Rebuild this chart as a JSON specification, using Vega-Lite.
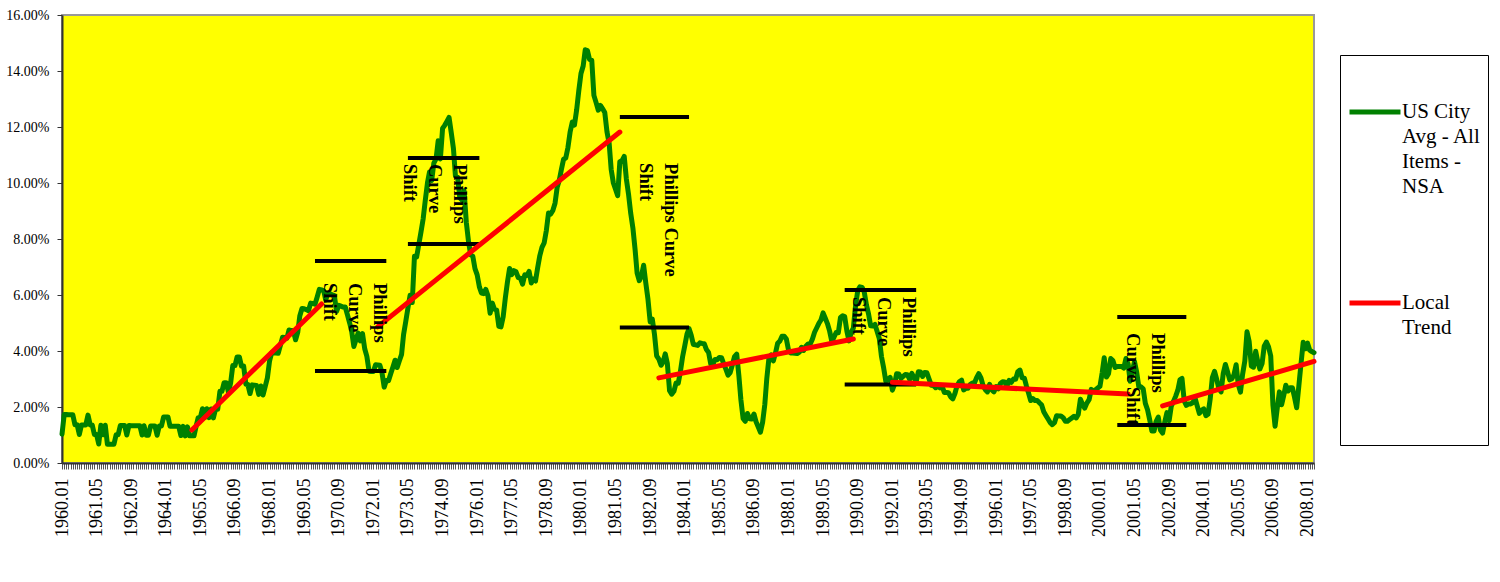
{
  "$schema": "https://vega.github.io/schema/vega-lite/v6.json",
  "width": 1252,
  "height": 448,
  "autosize": {"type": "none"},
  "padding": {"left": 62, "top": 15, "right": 186, "bottom": 119},
  "background": "#ffffff",
  "config": {
    "view": {"fill": "#FFFF00", "stroke": "#999999", "strokeWidth": 2},
    "font": "Liberation Serif",
    "style": {"guide-label": {"lineHeight": 25}}
  },
  "datasets": {
    "cpi": [
{"d":"1960-01","v":1.03},{"d":"1960-02","v":1.73},{"d":"1960-03","v":1.73},{"d":"1960-04","v":1.72},{"d":"1960-05","v":1.72},{"d":"1960-06","v":1.72},{"d":"1960-07","v":1.37},{"d":"1960-08","v":1.37},{"d":"1960-09","v":1.02},{"d":"1960-10","v":1.36},{"d":"1960-11","v":1.36},{"d":"1960-12","v":1.36},
{"d":"1961-01","v":1.71},{"d":"1961-02","v":1.36},{"d":"1961-03","v":1.36},{"d":"1961-04","v":1.02},{"d":"1961-05","v":1.02},{"d":"1961-06","v":0.68},{"d":"1961-07","v":1.35},{"d":"1961-08","v":1.01},{"d":"1961-09","v":1.35},{"d":"1961-10","v":0.67},{"d":"1961-11","v":0.67},{"d":"1961-12","v":0.67},
{"d":"1962-01","v":0.67},{"d":"1962-02","v":1.01},{"d":"1962-03","v":1.01},{"d":"1962-04","v":1.34},{"d":"1962-05","v":1.34},{"d":"1962-06","v":1.34},{"d":"1962-07","v":1.00},{"d":"1962-08","v":1.34},{"d":"1962-09","v":1.33},{"d":"1962-10","v":1.33},{"d":"1962-11","v":1.33},{"d":"1962-12","v":1.33},
{"d":"1963-01","v":1.33},{"d":"1963-02","v":1.00},{"d":"1963-03","v":1.33},{"d":"1963-04","v":0.99},{"d":"1963-05","v":0.99},{"d":"1963-06","v":1.32},{"d":"1963-07","v":1.32},{"d":"1963-08","v":1.32},{"d":"1963-09","v":0.99},{"d":"1963-10","v":1.32},{"d":"1963-11","v":1.32},{"d":"1963-12","v":1.64},
{"d":"1964-01","v":1.64},{"d":"1964-02","v":1.64},{"d":"1964-03","v":1.31},{"d":"1964-04","v":1.31},{"d":"1964-05","v":1.31},{"d":"1964-06","v":1.31},{"d":"1964-07","v":1.31},{"d":"1964-08","v":0.98},{"d":"1964-09","v":1.31},{"d":"1964-10","v":0.97},{"d":"1964-11","v":1.29},{"d":"1964-12","v":0.97},
{"d":"1965-01","v":0.97},{"d":"1965-02","v":0.97},{"d":"1965-03","v":1.29},{"d":"1965-04","v":1.62},{"d":"1965-05","v":1.62},{"d":"1965-06","v":1.94},{"d":"1965-07","v":1.62},{"d":"1965-08","v":1.94},{"d":"1965-09","v":1.62},{"d":"1965-10","v":1.93},{"d":"1965-11","v":1.61},{"d":"1965-12","v":1.92},
{"d":"1966-01","v":1.92},{"d":"1966-02","v":2.56},{"d":"1966-03","v":2.56},{"d":"1966-04","v":2.87},{"d":"1966-05","v":2.87},{"d":"1966-06","v":2.53},{"d":"1966-07","v":2.85},{"d":"1966-08","v":3.48},{"d":"1966-09","v":3.48},{"d":"1966-10","v":3.79},{"d":"1966-11","v":3.79},{"d":"1966-12","v":3.46},
{"d":"1967-01","v":3.46},{"d":"1967-02","v":2.81},{"d":"1967-03","v":2.80},{"d":"1967-04","v":2.48},{"d":"1967-05","v":2.79},{"d":"1967-06","v":2.78},{"d":"1967-07","v":2.77},{"d":"1967-08","v":2.45},{"d":"1967-09","v":2.75},{"d":"1967-10","v":2.43},{"d":"1967-11","v":2.74},{"d":"1967-12","v":3.04},
{"d":"1968-01","v":3.65},{"d":"1968-02","v":3.95},{"d":"1968-03","v":3.94},{"d":"1968-04","v":3.93},{"d":"1968-05","v":3.92},{"d":"1968-06","v":4.20},{"d":"1968-07","v":4.49},{"d":"1968-08","v":4.48},{"d":"1968-09","v":4.46},{"d":"1968-10","v":4.75},{"d":"1968-11","v":4.73},{"d":"1968-12","v":4.72},
{"d":"1969-01","v":4.40},{"d":"1969-02","v":4.68},{"d":"1969-03","v":5.25},{"d":"1969-04","v":5.52},{"d":"1969-05","v":5.51},{"d":"1969-06","v":5.48},{"d":"1969-07","v":5.44},{"d":"1969-08","v":5.71},{"d":"1969-09","v":5.70},{"d":"1969-10","v":5.67},{"d":"1969-11","v":5.93},{"d":"1969-12","v":6.20},
{"d":"1970-01","v":6.18},{"d":"1970-02","v":6.15},{"d":"1970-03","v":5.82},{"d":"1970-04","v":6.06},{"d":"1970-05","v":6.04},{"d":"1970-06","v":6.01},{"d":"1970-07","v":5.98},{"d":"1970-08","v":5.41},{"d":"1970-09","v":5.63},{"d":"1970-10","v":5.60},{"d":"1970-11","v":5.57},{"d":"1970-12","v":5.57},
{"d":"1971-01","v":5.29},{"d":"1971-02","v":5.00},{"d":"1971-03","v":4.71},{"d":"1971-04","v":4.16},{"d":"1971-05","v":4.40},{"d":"1971-06","v":4.64},{"d":"1971-07","v":4.36},{"d":"1971-08","v":4.62},{"d":"1971-09","v":4.08},{"d":"1971-10","v":3.81},{"d":"1971-11","v":3.28},{"d":"1971-12","v":3.27},
{"d":"1972-01","v":3.27},{"d":"1972-02","v":3.51},{"d":"1972-03","v":3.50},{"d":"1972-04","v":3.49},{"d":"1972-05","v":3.23},{"d":"1972-06","v":2.71},{"d":"1972-07","v":2.95},{"d":"1972-08","v":2.94},{"d":"1972-09","v":3.19},{"d":"1972-10","v":3.42},{"d":"1972-11","v":3.67},{"d":"1972-12","v":3.41},
{"d":"1973-01","v":3.65},{"d":"1973-02","v":3.88},{"d":"1973-03","v":4.59},{"d":"1973-04","v":5.06},{"d":"1973-05","v":5.53},{"d":"1973-06","v":5.99},{"d":"1973-07","v":5.73},{"d":"1973-08","v":7.38},{"d":"1973-09","v":7.36},{"d":"1973-10","v":7.80},{"d":"1973-11","v":8.25},{"d":"1973-12","v":8.71},
{"d":"1974-01","v":9.39},{"d":"1974-02","v":10.02},{"d":"1974-03","v":10.39},{"d":"1974-04","v":10.09},{"d":"1974-05","v":10.71},{"d":"1974-06","v":10.86},{"d":"1974-07","v":11.51},{"d":"1974-08","v":10.86},{"d":"1974-09","v":11.95},{"d":"1974-10","v":12.06},{"d":"1974-11","v":12.20},{"d":"1974-12","v":12.34},
{"d":"1975-01","v":11.80},{"d":"1975-02","v":11.23},{"d":"1975-03","v":10.25},{"d":"1975-04","v":10.21},{"d":"1975-05","v":9.47},{"d":"1975-06","v":9.39},{"d":"1975-07","v":9.72},{"d":"1975-08","v":8.60},{"d":"1975-09","v":7.91},{"d":"1975-10","v":7.44},{"d":"1975-11","v":7.38},{"d":"1975-12","v":6.94},
{"d":"1976-01","v":6.72},{"d":"1976-02","v":6.29},{"d":"1976-03","v":6.07},{"d":"1976-04","v":6.05},{"d":"1976-05","v":6.20},{"d":"1976-06","v":5.97},{"d":"1976-07","v":5.35},{"d":"1976-08","v":5.71},{"d":"1976-09","v":5.49},{"d":"1976-10","v":5.46},{"d":"1976-11","v":4.88},{"d":"1976-12","v":4.86},
{"d":"1977-01","v":5.22},{"d":"1977-02","v":5.91},{"d":"1977-03","v":6.44},{"d":"1977-04","v":6.95},{"d":"1977-05","v":6.73},{"d":"1977-06","v":6.87},{"d":"1977-07","v":6.83},{"d":"1977-08","v":6.62},{"d":"1977-09","v":6.60},{"d":"1977-10","v":6.39},{"d":"1977-11","v":6.72},{"d":"1977-12","v":6.70},
{"d":"1978-01","v":6.84},{"d":"1978-02","v":6.43},{"d":"1978-03","v":6.57},{"d":"1978-04","v":6.50},{"d":"1978-05","v":6.97},{"d":"1978-06","v":7.41},{"d":"1978-07","v":7.70},{"d":"1978-08","v":7.86},{"d":"1978-09","v":8.31},{"d":"1978-10","v":8.93},{"d":"1978-11","v":8.89},{"d":"1978-12","v":9.02},
{"d":"1979-01","v":9.28},{"d":"1979-02","v":9.86},{"d":"1979-03","v":10.09},{"d":"1979-04","v":10.49},{"d":"1979-05","v":10.85},{"d":"1979-06","v":10.89},{"d":"1979-07","v":11.26},{"d":"1979-08","v":11.82},{"d":"1979-09","v":12.18},{"d":"1979-10","v":12.07},{"d":"1979-11","v":12.61},{"d":"1979-12","v":13.29},
{"d":"1980-01","v":13.91},{"d":"1980-02","v":14.18},{"d":"1980-03","v":14.76},{"d":"1980-04","v":14.73},{"d":"1980-05","v":14.41},{"d":"1980-06","v":14.38},{"d":"1980-07","v":13.13},{"d":"1980-08","v":12.87},{"d":"1980-09","v":12.60},{"d":"1980-10","v":12.77},{"d":"1980-11","v":12.65},{"d":"1980-12","v":12.52},
{"d":"1981-01","v":11.83},{"d":"1981-02","v":11.41},{"d":"1981-03","v":10.49},{"d":"1981-04","v":10.00},{"d":"1981-05","v":9.78},{"d":"1981-06","v":9.55},{"d":"1981-07","v":10.76},{"d":"1981-08","v":10.80},{"d":"1981-09","v":10.95},{"d":"1981-10","v":10.14},{"d":"1981-11","v":9.59},{"d":"1981-12","v":8.92},
{"d":"1982-01","v":8.39},{"d":"1982-02","v":7.62},{"d":"1982-03","v":6.78},{"d":"1982-04","v":6.51},{"d":"1982-05","v":6.68},{"d":"1982-06","v":7.06},{"d":"1982-07","v":6.44},{"d":"1982-08","v":5.85},{"d":"1982-09","v":5.04},{"d":"1982-10","v":5.14},{"d":"1982-11","v":4.59},{"d":"1982-12","v":3.83},
{"d":"1983-01","v":3.71},{"d":"1983-02","v":3.49},{"d":"1983-03","v":3.60},{"d":"1983-04","v":3.90},{"d":"1983-05","v":3.55},{"d":"1983-06","v":2.58},{"d":"1983-07","v":2.46},{"d":"1983-08","v":2.56},{"d":"1983-09","v":2.86},{"d":"1983-10","v":2.85},{"d":"1983-11","v":3.27},{"d":"1983-12","v":3.79},
{"d":"1984-01","v":4.19},{"d":"1984-02","v":4.60},{"d":"1984-03","v":4.80},{"d":"1984-04","v":4.56},{"d":"1984-05","v":4.23},{"d":"1984-06","v":4.22},{"d":"1984-07","v":4.20},{"d":"1984-08","v":4.29},{"d":"1984-09","v":4.27},{"d":"1984-10","v":4.26},{"d":"1984-11","v":4.05},{"d":"1984-12","v":3.95},
{"d":"1985-01","v":3.53},{"d":"1985-02","v":3.52},{"d":"1985-03","v":3.70},{"d":"1985-04","v":3.69},{"d":"1985-05","v":3.77},{"d":"1985-06","v":3.76},{"d":"1985-07","v":3.55},{"d":"1985-08","v":3.35},{"d":"1985-09","v":3.14},{"d":"1985-10","v":3.23},{"d":"1985-11","v":3.51},{"d":"1985-12","v":3.80},
{"d":"1986-01","v":3.89},{"d":"1986-02","v":3.11},{"d":"1986-03","v":2.26},{"d":"1986-04","v":1.59},{"d":"1986-05","v":1.49},{"d":"1986-06","v":1.77},{"d":"1986-07","v":1.58},{"d":"1986-08","v":1.57},{"d":"1986-09","v":1.75},{"d":"1986-10","v":1.47},{"d":"1986-11","v":1.28},{"d":"1986-12","v":1.10},
{"d":"1987-01","v":1.46},{"d":"1987-02","v":2.10},{"d":"1987-03","v":3.03},{"d":"1987-04","v":3.78},{"d":"1987-05","v":3.86},{"d":"1987-06","v":3.65},{"d":"1987-07","v":3.93},{"d":"1987-08","v":4.28},{"d":"1987-09","v":4.36},{"d":"1987-10","v":4.53},{"d":"1987-11","v":4.53},{"d":"1987-12","v":4.43},
{"d":"1988-01","v":4.03},{"d":"1988-02","v":3.93},{"d":"1988-03","v":3.93},{"d":"1988-04","v":3.92},{"d":"1988-05","v":3.91},{"d":"1988-06","v":3.96},{"d":"1988-07","v":4.13},{"d":"1988-08","v":4.02},{"d":"1988-09","v":4.17},{"d":"1988-10","v":4.25},{"d":"1988-11","v":4.25},{"d":"1988-12","v":4.42},
{"d":"1989-01","v":4.67},{"d":"1989-02","v":4.83},{"d":"1989-03","v":4.98},{"d":"1989-04","v":5.11},{"d":"1989-05","v":5.36},{"d":"1989-06","v":5.17},{"d":"1989-07","v":4.98},{"d":"1989-08","v":4.71},{"d":"1989-09","v":4.34},{"d":"1989-10","v":4.49},{"d":"1989-11","v":4.66},{"d":"1989-12","v":4.65},
{"d":"1990-01","v":5.20},{"d":"1990-02","v":5.26},{"d":"1990-03","v":5.23},{"d":"1990-04","v":4.71},{"d":"1990-05","v":4.36},{"d":"1990-06","v":4.67},{"d":"1990-07","v":4.82},{"d":"1990-08","v":5.62},{"d":"1990-09","v":6.16},{"d":"1990-10","v":6.29},{"d":"1990-11","v":6.27},{"d":"1990-12","v":6.11},
{"d":"1991-01","v":5.65},{"d":"1991-02","v":5.31},{"d":"1991-03","v":4.90},{"d":"1991-04","v":4.89},{"d":"1991-05","v":4.95},{"d":"1991-06","v":4.70},{"d":"1991-07","v":4.45},{"d":"1991-08","v":3.80},{"d":"1991-09","v":3.39},{"d":"1991-10","v":2.92},{"d":"1991-11","v":2.99},{"d":"1991-12","v":3.06},
{"d":"1992-01","v":2.60},{"d":"1992-02","v":2.82},{"d":"1992-03","v":3.19},{"d":"1992-04","v":3.18},{"d":"1992-05","v":3.02},{"d":"1992-06","v":3.09},{"d":"1992-07","v":3.16},{"d":"1992-08","v":3.15},{"d":"1992-09","v":2.99},{"d":"1992-10","v":3.20},{"d":"1992-11","v":3.05},{"d":"1992-12","v":2.90},
{"d":"1993-01","v":3.26},{"d":"1993-02","v":3.25},{"d":"1993-03","v":3.09},{"d":"1993-04","v":3.23},{"d":"1993-05","v":3.22},{"d":"1993-06","v":3.00},{"d":"1993-07","v":2.78},{"d":"1993-08","v":2.77},{"d":"1993-09","v":2.69},{"d":"1993-10","v":2.75},{"d":"1993-11","v":2.68},{"d":"1993-12","v":2.75},
{"d":"1994-01","v":2.52},{"d":"1994-02","v":2.52},{"d":"1994-03","v":2.51},{"d":"1994-04","v":2.36},{"d":"1994-05","v":2.29},{"d":"1994-06","v":2.49},{"d":"1994-07","v":2.77},{"d":"1994-08","v":2.90},{"d":"1994-09","v":2.96},{"d":"1994-10","v":2.61},{"d":"1994-11","v":2.67},{"d":"1994-12","v":2.67},
{"d":"1995-01","v":2.80},{"d":"1995-02","v":2.86},{"d":"1995-03","v":2.85},{"d":"1995-04","v":3.05},{"d":"1995-05","v":3.19},{"d":"1995-06","v":3.04},{"d":"1995-07","v":2.76},{"d":"1995-08","v":2.62},{"d":"1995-09","v":2.54},{"d":"1995-10","v":2.81},{"d":"1995-11","v":2.61},{"d":"1995-12","v":2.54},
{"d":"1996-01","v":2.73},{"d":"1996-02","v":2.65},{"d":"1996-03","v":2.84},{"d":"1996-04","v":2.90},{"d":"1996-05","v":2.89},{"d":"1996-06","v":2.75},{"d":"1996-07","v":2.95},{"d":"1996-08","v":2.88},{"d":"1996-09","v":3.00},{"d":"1996-10","v":2.99},{"d":"1996-11","v":3.26},{"d":"1996-12","v":3.32},
{"d":"1997-01","v":3.04},{"d":"1997-02","v":3.03},{"d":"1997-03","v":2.76},{"d":"1997-04","v":2.50},{"d":"1997-05","v":2.23},{"d":"1997-06","v":2.30},{"d":"1997-07","v":2.23},{"d":"1997-08","v":2.23},{"d":"1997-09","v":2.15},{"d":"1997-10","v":2.08},{"d":"1997-11","v":1.83},{"d":"1997-12","v":1.70},
{"d":"1998-01","v":1.57},{"d":"1998-02","v":1.44},{"d":"1998-03","v":1.37},{"d":"1998-04","v":1.44},{"d":"1998-05","v":1.69},{"d":"1998-06","v":1.68},{"d":"1998-07","v":1.68},{"d":"1998-08","v":1.62},{"d":"1998-09","v":1.49},{"d":"1998-10","v":1.49},{"d":"1998-11","v":1.55},{"d":"1998-12","v":1.61},
{"d":"1999-01","v":1.67},{"d":"1999-02","v":1.61},{"d":"1999-03","v":1.73},{"d":"1999-04","v":2.28},{"d":"1999-05","v":2.09},{"d":"1999-06","v":1.96},{"d":"1999-07","v":2.14},{"d":"1999-08","v":2.26},{"d":"1999-09","v":2.63},{"d":"1999-10","v":2.56},{"d":"1999-11","v":2.62},{"d":"1999-12","v":2.68},
{"d":"2000-01","v":2.74},{"d":"2000-02","v":3.22},{"d":"2000-03","v":3.76},{"d":"2000-04","v":3.07},{"d":"2000-05","v":3.19},{"d":"2000-06","v":3.73},{"d":"2000-07","v":3.66},{"d":"2000-08","v":3.41},{"d":"2000-09","v":3.45},{"d":"2000-10","v":3.45},{"d":"2000-11","v":3.45},{"d":"2000-12","v":3.39},
{"d":"2001-01","v":3.73},{"d":"2001-02","v":3.53},{"d":"2001-03","v":2.92},{"d":"2001-04","v":3.27},{"d":"2001-05","v":3.62},{"d":"2001-06","v":3.25},{"d":"2001-07","v":2.72},{"d":"2001-08","v":2.72},{"d":"2001-09","v":2.65},{"d":"2001-10","v":2.13},{"d":"2001-11","v":1.90},{"d":"2001-12","v":1.55},
{"d":"2002-01","v":1.14},{"d":"2002-02","v":1.14},{"d":"2002-03","v":1.48},{"d":"2002-04","v":1.64},{"d":"2002-05","v":1.18},{"d":"2002-06","v":1.07},{"d":"2002-07","v":1.46},{"d":"2002-08","v":1.80},{"d":"2002-09","v":1.51},{"d":"2002-10","v":2.03},{"d":"2002-11","v":2.20},{"d":"2002-12","v":2.38},
{"d":"2003-01","v":2.60},{"d":"2003-02","v":2.98},{"d":"2003-03","v":3.02},{"d":"2003-04","v":2.22},{"d":"2003-05","v":2.06},{"d":"2003-06","v":2.11},{"d":"2003-07","v":2.11},{"d":"2003-08","v":2.16},{"d":"2003-09","v":2.32},{"d":"2003-10","v":2.04},{"d":"2003-11","v":1.77},{"d":"2003-12","v":1.88},
{"d":"2004-01","v":1.93},{"d":"2004-02","v":1.69},{"d":"2004-03","v":1.74},{"d":"2004-04","v":2.29},{"d":"2004-05","v":3.05},{"d":"2004-06","v":3.27},{"d":"2004-07","v":2.99},{"d":"2004-08","v":2.65},{"d":"2004-09","v":2.54},{"d":"2004-10","v":3.19},{"d":"2004-11","v":3.52},{"d":"2004-12","v":3.26},
{"d":"2005-01","v":2.97},{"d":"2005-02","v":3.01},{"d":"2005-03","v":3.15},{"d":"2005-04","v":3.51},{"d":"2005-05","v":2.80},{"d":"2005-06","v":2.53},{"d":"2005-07","v":3.17},{"d":"2005-08","v":3.64},{"d":"2005-09","v":4.69},{"d":"2005-10","v":4.35},{"d":"2005-11","v":3.46},{"d":"2005-12","v":3.42},
{"d":"2006-01","v":3.99},{"d":"2006-02","v":3.60},{"d":"2006-03","v":3.36},{"d":"2006-04","v":3.55},{"d":"2006-05","v":4.17},{"d":"2006-06","v":4.32},{"d":"2006-07","v":4.15},{"d":"2006-08","v":3.82},{"d":"2006-09","v":2.06},{"d":"2006-10","v":1.31},{"d":"2006-11","v":1.97},{"d":"2006-12","v":2.54},
{"d":"2007-01","v":2.08},{"d":"2007-02","v":2.42},{"d":"2007-03","v":2.78},{"d":"2007-04","v":2.57},{"d":"2007-05","v":2.69},{"d":"2007-06","v":2.69},{"d":"2007-07","v":2.36},{"d":"2007-08","v":1.97},{"d":"2007-09","v":2.76},{"d":"2007-10","v":3.54},{"d":"2007-11","v":4.31},{"d":"2007-12","v":4.08},
{"d":"2008-01","v":4.28},{"d":"2008-02","v":4.03},{"d":"2008-03","v":3.98},{"d":"2008-04","v":3.94}
    ],
    "trend": [
      {"s": 1, "d": "1965-01", "v": 1.18}, {"s": 1, "d": "1970-01", "v": 5.68},
      {"s": 2, "d": "1972-03", "v": 4.86}, {"s": 2, "d": "1981-07", "v": 11.82},
      {"s": 3, "d": "1983-01", "v": 3.04}, {"s": 3, "d": "1990-07", "v": 4.43},
      {"s": 4, "d": "1992-01", "v": 2.88}, {"s": 4, "d": "2001-02", "v": 2.46},
      {"s": 5, "d": "2002-06", "v": 2.04}, {"s": 5, "d": "2008-04", "v": 3.63}
    ],
    "bars": [
      {"d": "1969-10", "d2": "1972-07", "v": 7.21},
      {"d": "1969-10", "d2": "1972-07", "v": 3.29},
      {"d": "1973-05", "d2": "1976-02", "v": 10.89},
      {"d": "1973-05", "d2": "1976-02", "v": 7.82},
      {"d": "1981-07", "d2": "1984-03", "v": 12.36},
      {"d": "1981-07", "d2": "1984-03", "v": 4.84},
      {"d": "1990-03", "d2": "1992-12", "v": 6.18},
      {"d": "1990-03", "d2": "1992-12", "v": 2.8},
      {"d": "2000-09", "d2": "2003-05", "v": 5.21},
      {"d": "2000-09", "d2": "2003-05", "v": 1.36}
    ],
    "notes": [
      {"d": "1972-08", "v": 6.43, "t": "Phillips|Curve|Shift"},
      {"d": "1975-09", "v": 10.68, "t": "Phillips|Curve|Shift"},
      {"d": "1983-11", "v": 10.71, "t": "Phillips Curve|Shift"},
      {"d": "1993-01", "v": 5.93, "t": "Phillips|Curve|Shift"},
      {"d": "2002-08", "v": 4.64, "t": "Phillips|Curve Shift"}
    ]
  },
  "encoding": {
    "x": {
      "field": "d",
      "type": "temporal",
      "scale": {
        "type": "utc",
        "nice": false,
        "domain": [
          {"year": 1960, "month": 1, "date": 1, "utc": true},
          {"year": 2008, "month": 4, "date": 1, "utc": true}
        ]
      },
      "axis": {
        "title": null,
        "grid": false,
        "tickCount": {"interval": "month", "step": 1},
        "labelExpr": "((utcyear(datum.value)-1960)*12+utcmonth(datum.value))%16==0 ? utcFormat(datum.value,'%Y.%m') : ''",
        "labelAngle": 270,
        "labelFont": "Liberation Serif",
        "labelFontSize": 18,
        "labelColor": "#000000",
        "labelOverlap": false,
        "labelFlush": false,
        "labelBound": false,
        "labelPadding": 9,
        "labelLimit": 300,
        "tickSize": 6,
        "tickWidth": 1,
        "tickColor": "#555555",
        "domainColor": "#333333",
        "domainWidth": 2
      }
    },
    "y": {
      "field": "v",
      "type": "quantitative",
      "scale": {"domain": [0, 16], "nice": false},
      "axis": {
        "title": null,
        "grid": false,
        "values": [0, 2, 4, 6, 8, 10, 12, 14, 16],
        "labelExpr": "format(datum.value/100,'.2%')",
        "labelFont": "Liberation Serif",
        "labelFontSize": 14,
        "labelColor": "#000000",
        "labelPadding": 8,
        "tickSize": 5,
        "tickColor": "#333333",
        "domainColor": "#333333",
        "domainWidth": 2
      }
    }
  },
  "layer": [
    {
      "data": {"name": "cpi"},
      "mark": {"type": "line", "strokeWidth": 5, "strokeJoin": "round", "strokeCap": "round"},
      "encoding": {
        "color": {
          "datum": "US City Avg - All Items - NSA",
          "type": "nominal",
          "scale": {
            "domain": ["US City Avg - All Items - NSA", "Local Trend"],
            "range": ["#008000", "#FF0000"]
          },
          "legend": {
            "orient": "none",
            "legendX": 1278,
            "legendY": 40,
            "title": " ",
            "titleFontSize": 18,
            "titlePadding": 4,
            "symbolType": "stroke",
            "symbolSize": 2600,
            "symbolStrokeWidth": 5,
            "labelFont": "Liberation Serif",
            "labelFontSize": 21,
            "labelColor": "#000000",
            "labelBaseline": "middle",
            "labelOffset": -1,
            "labelLimit": 300,
            "labelExpr": "datum.label == 'Local Trend' ? ['Local','Trend','','','',''] : ['US City','Avg - All','Items -','NSA']",
            "strokeColor": "#000000",
            "fillColor": "#ffffff",
            "padding": 7,
            "rowPadding": 78
          }
        }
      }
    },
    {
      "data": {"name": "bars"},
      "mark": {"type": "rule", "strokeWidth": 4, "color": "#000000"},
      "encoding": {
        "x2": {"field": "d2"}
      }
    },
    {
      "data": {"name": "trend"},
      "mark": {"type": "line", "strokeWidth": 5, "strokeCap": "round"},
      "encoding": {
        "detail": {"field": "s", "type": "nominal"},
        "color": {"datum": "Local Trend", "type": "nominal"}
      }
    },
    {
      "data": {"name": "notes"},
      "mark": {
        "type": "text",
        "angle": 90,
        "align": "left",
        "baseline": "top",
        "font": "Liberation Serif",
        "fontSize": 18.5,
        "fontWeight": "bold",
        "lineBreak": "|",
        "lineHeight": 25,
        "fill": "#000000"
      },
      "encoding": {
        "text": {"field": "t", "type": "nominal"}
      }
    }
  ]
}
